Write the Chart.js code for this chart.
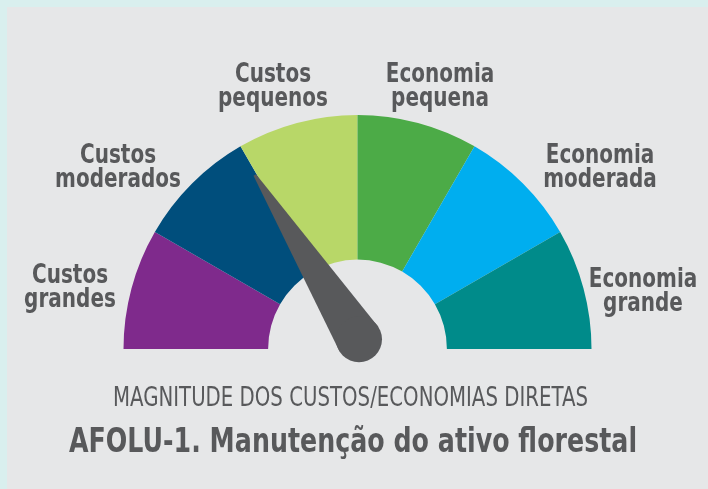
<!DOCTYPE html>
<html>
<head>
<meta charset="utf-8">
<script src="https://cdn.jsdelivr.net/npm/chart.js@4.4.1/dist/chart.umd.min.js"></script>
<style>
  html, body { margin: 0; padding: 0; background: #d9efee; }
  #wrap { position: relative; width: 708px; height: 489px; overflow: hidden; }
  #panel { position: absolute; left: 7px; top: 7px; right: 0; bottom: 0; background: #e6e7e8; }
  #c { position: absolute; left: 0; top: 0; }
</style>
</head>
<body>
<div id="wrap">
  <div id="panel"></div>
  <canvas id="c" width="708" height="489"></canvas>
</div>
<script>
// ---- data ----
const categories = ['Custos grandes', 'Custos moderados', 'Custos pequenos',
                    'Economia pequena', 'Economia moderada', 'Economia grande'];
const segmentValues = [1, 1, 1, 1, 1, 1];
const needleValue = 1.92;           // position of the needle on the 0–6 scale
const subtitleText = 'MAGNITUDE DOS CUSTOS/ECONOMIAS DIRETAS';
const titleText = 'AFOLU-1. Manutenção do ativo florestal';

// ---- style ----
const segmentColors = ['#7f2a8c', '#004e7c', '#b8d768', '#4cab47', '#00aeef', '#008b8a'];
const textColor = '#58595b';
const needleColor = '#58595b';
// label block anchors, relative to gauge centre (px)
const labelOffsets = [[-287.5, -63], [-239.5, -183], [-84.5, -264],
                      [82.5, -264], [242.5, -183], [285.5, -59]];

function drawScaledText(ctx, text, x, y, font, hscale) {
  ctx.save();
  ctx.font = font;
  ctx.translate(x, y);
  ctx.scale(hscale, 1);
  ctx.fillText(text, 0, 0);
  ctx.restore();
}

const gaugeExtras = {
  id: 'gaugeExtras',
  afterDatasetsDraw(chart) {
    const ctx = chart.ctx;
    const arcs = chart.getDatasetMeta(0).data;
    const a0 = arcs[0];
    const cx = a0.x, cy = a0.y;
    const total = segmentValues.reduce((s, v) => s + v, 0);
    const start = a0.startAngle;
    const end = arcs[arcs.length - 1].endAngle;

    // needle
    const ang = start + (needleValue / total) * (end - start);
    const px = cx + 1.5, py = cy - 9.75;
    const len = 194.5, baseR = 23, tipHW = 1.5;
    const ux = Math.cos(ang), uy = Math.sin(ang);
    const nx = -uy, ny = ux;
    const tx = px + ux * len, ty = py + uy * len;
    ctx.save();
    ctx.fillStyle = needleColor;
    ctx.beginPath();
    ctx.moveTo(px + nx * baseR, py + ny * baseR);
    ctx.lineTo(tx + nx * tipHW, ty + ny * tipHW);
    ctx.lineTo(tx - nx * tipHW, ty - ny * tipHW);
    ctx.lineTo(px - nx * baseR, py - ny * baseR);
    ctx.closePath();
    ctx.fill();
    ctx.beginPath();
    ctx.arc(px, py, baseR, 0, Math.PI * 2);
    ctx.fill();
    ctx.restore();

    // labels
    ctx.save();
    ctx.fillStyle = textColor;
    ctx.textAlign = 'center';
    ctx.textBaseline = 'alphabetic';
    categories.forEach((cat, i) => {
      const idx = cat.indexOf(' ');
      const lines = [cat.slice(0, idx), cat.slice(idx + 1)];
      const lx = cx + labelOffsets[i][0];
      const ly = cy + labelOffsets[i][1];
      lines.forEach((ln, k) => {
        drawScaledText(ctx, ln, lx, ly - 3 + k * 24, 'bold 26px "DejaVu Sans"', 0.77);
      });
    });
    // bottom texts
    drawScaledText(ctx, subtitleText, cx - 7, cy + 57, '26px "DejaVu Sans"', 0.76);
    drawScaledText(ctx, titleText, cx - 4.5, cy + 103, 'bold 33px "DejaVu Sans"', 0.767);
    ctx.restore();
  }
};

new Chart(document.getElementById('c'), {
  type: 'doughnut',
  data: {
    labels: categories,
    datasets: [{
      data: segmentValues,
      backgroundColor: segmentColors,
      borderWidth: 0
    }]
  },
  options: {
    responsive: false,
    animation: false,
    devicePixelRatio: 1,
    rotation: -90,
    circumference: 180,
    cutout: '38.2%',
    layout: { padding: { left: 123, right: 116, top: 115, bottom: 140 } },
    plugins: { legend: { display: false }, tooltip: { enabled: false }, title: { display: false } }
  },
  plugins: [gaugeExtras]
});
</script>
</body>
</html>
